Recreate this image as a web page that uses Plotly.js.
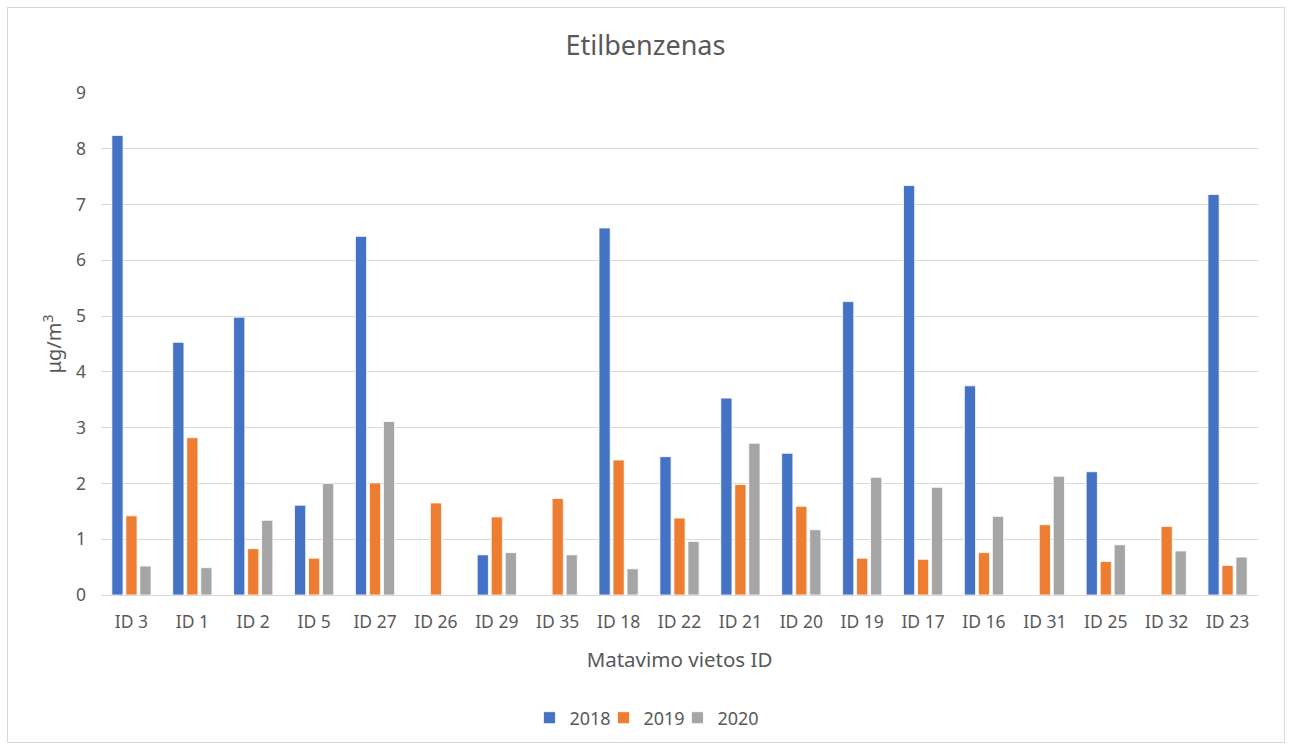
<!DOCTYPE html>
<html>
<head>
<meta charset="utf-8">
<script src="https://cdn.plot.ly/plotly-3.0.1.min.js"></script>
<style>
  html, body { margin: 0; padding: 0; background: #fff; }
  #wrap { position: relative; width: 1291px; height: 749px; }
  #chart { width: 1291px; height: 749px; }
  #frame { position: absolute; left: 7px; top: 7px; width: 1276px; height: 734px; border: 1px solid #D9D9D9; pointer-events: none; }
</style>
</head>
<body>
<div id="wrap">
  <div id="chart"></div>
  <div id="frame"></div>
</div>
<script>
const categories = ["ID 3","ID 1","ID 2","ID 5","ID 27","ID 26","ID 29","ID 35","ID 18","ID 22","ID 21","ID 20","ID 19","ID 17","ID 16","ID 31","ID 25","ID 32","ID 23"];
const values2018 = [8.24, 4.53, 4.98, 1.61, 6.43, null, 0.72, null, 6.58, 2.48, 3.53, 2.54, 5.26, 7.34, 3.75, null, 2.21, null, 7.18];
const values2019 = [1.42, 2.82, 0.83, 0.66, 2.01, 1.65, 1.40, 1.73, 2.42, 1.38, 1.98, 1.59, 0.66, 0.64, 0.76, 1.26, 0.60, 1.23, 0.53];
const values2020 = [0.52, 0.49, 1.34, 2.00, 3.11, null, 0.76, 0.72, 0.47, 0.96, 2.72, 1.17, 2.11, 1.93, 1.41, 2.13, 0.90, 0.79, 0.68];
const seriesNames = ["2018", "2019", "2020"];
const seriesColors = ["#4472C4", "#ED7D31", "#A5A5A5"];
const yTicks = [0,1,2,3,4,5,6,7,8,9];

const font = "Noto Sans, Liberation Sans, sans-serif";
const txt = "#595959";

const legendIds = ["legend", "legend2", "legend3"];
const legendX = [0.3703, 0.4343, 0.4982];

const allValues = [values2018, values2019, values2020];
const traces = allValues.map((v, i) => ({
  type: "bar",
  name: seriesNames[i],
  x: categories,
  y: v,
  legend: legendIds[i],
  marker: { color: seriesColors[i], line: { color: "#FFFFFF", width: 0.8 } },
  hoverinfo: "x+y+name"
}));

const layout = {
  width: 1291,
  height: 749,
  paper_bgcolor: "#FFFFFF",
  plot_bgcolor: "#FFFFFF",
  margin: { l: 101, r: 33, t: 93, b: 154, autoexpand: false },
  barmode: "group",
  bargap: 0.31,
  bargroupgap: 0.2,
  title: { text: "Etilbenzenas", font: { family: font, size: 27, color: txt }, x: 0.5, xanchor: "center", y: 0.939, yanchor: "middle" },
  font: { family: font, color: txt },
  xaxis: {
    type: "category",
    showgrid: false,
    showline: true,
    linecolor: "#D9D9D9",
    linewidth: 1,
    ticks: "",
    tickfont: { family: font, size: 17.5, color: txt },
    ticklabelstandoff: 11,
    automargin: false,
    title: { text: "Matavimo vietos ID", font: { family: font, size: 20.5, color: txt }, standoff: 20 }
  },
  yaxis: {
    range: [0, 9],
    tickvals: yTicks,
    ticktext: yTicks.map(String),
    showgrid: true,
    gridcolor: "#D9D9D9",
    gridwidth: 1,
    zeroline: false,
    showline: false,
    ticks: "",
    tickfont: { family: font, size: 17.5, color: txt },
    ticklabelstandoff: 14,
    automargin: false,
    title: { text: "μg/m<sup>3</sup>", font: { family: font, size: 20, color: txt }, standoff: 8 }
  },
  showlegend: true,
  hovermode: "closest"
};

legendIds.forEach((id, i) => {
  layout[id] = {
    orientation: "h",
    x: legendX[i], xanchor: "left",
    y: -0.245, yanchor: "middle",
    font: { family: font, size: 18, color: txt },
    itemwidth: 30,
    bgcolor: "rgba(0,0,0,0)"
  };
});

Plotly.newPlot("chart", traces, layout, { displayModeBar: false, responsive: false });
</script>
</body>
</html>
